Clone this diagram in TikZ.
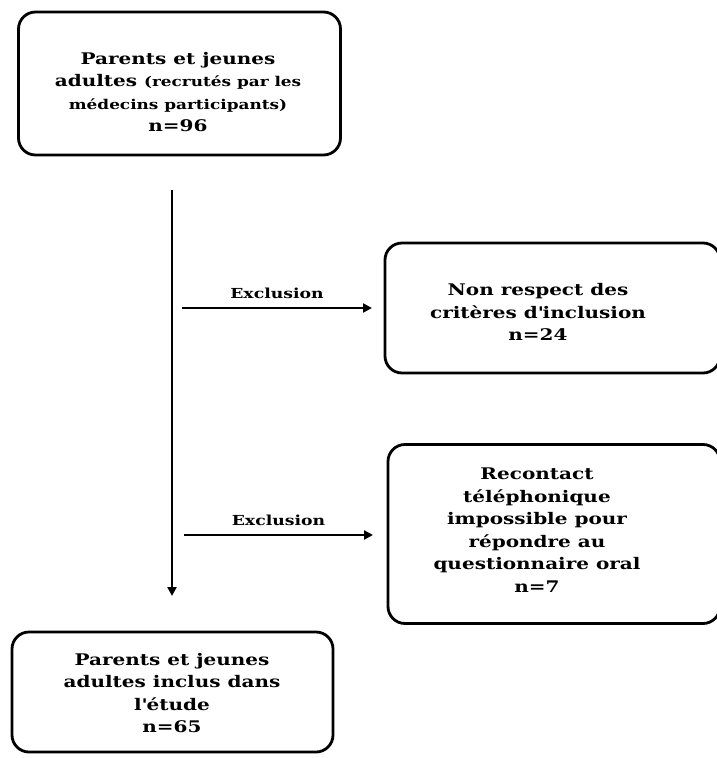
\documentclass[tikz,border=0pt]{standalone}
\usepackage{fontspec}
\setmainfont{DejaVu Serif}[FakeStretch=1.25]
\usetikzlibrary{arrows.meta}
\newcommand{\apos}{\textquotesingle}
\begin{document}
\begin{tikzpicture}[x=1pt,y=-1pt,
  box/.style={draw, line width=2.8pt, rounded corners=17pt, inner sep=0pt},
  txt/.style={align=center, font=\bfseries\fontsize{16}{22.5}\selectfont, inner sep=0pt},
  arr/.style={line width=2.8pt, -{Triangle[length=9pt,width=9pt]}},
  lab/.style={font=\bfseries\fontsize{13.8}{15}\selectfont}]
\useasboundingbox (0,0) rectangle (717,758);
\node[box, minimum width=322pt, minimum height=143pt] (b1) at (179.5,83.5) {};
\node[txt] (t1) at (178,92)
  {Parents et jeunes\\adultes {\fontsize{13.5}{22.5}\selectfont (recrutés par les}\\{\fontsize{13.5}{22.5}\selectfont médecins participants)}\\n=96};
\node[box, minimum width=335pt, minimum height=130pt] (b2) at (552.5,308) {};
\node[txt] (t2) at (538,312)
  {Non respect des\\critères d\apos inclusion\\n=24};
\node[box, minimum width=332pt, minimum height=179pt] (b3) at (554,534) {};
\node[txt] (t3) at (537,530)
  {Recontact\\téléphonique\\impossible pour\\répondre au\\questionnaire oral\\n=7};
\node[box, minimum width=321pt, minimum height=120pt] (b4) at (172.5,692) {};
\node[txt] (t4) at (172,693)
  {Parents et jeunes\\adultes inclus dans\\l\apos étude\\n=65};
\coordinate (vtop) at (172,190);
\coordinate (vbot) at (172,596);
\coordinate (a1s) at (182,308);
\coordinate (a1e) at (372,308);
\coordinate (a2s) at (184,535);
\coordinate (a2e) at (373,535);
\draw[arr] (vtop) -- (vbot);
\draw[arr] (a1s) -- node[lab, above=5pt] (l1) {Exclusion} (a1e);
\draw[arr] (a2s) -- node[lab, above=5pt] (l2) {Exclusion} (a2e);
\end{tikzpicture}
\end{document}
